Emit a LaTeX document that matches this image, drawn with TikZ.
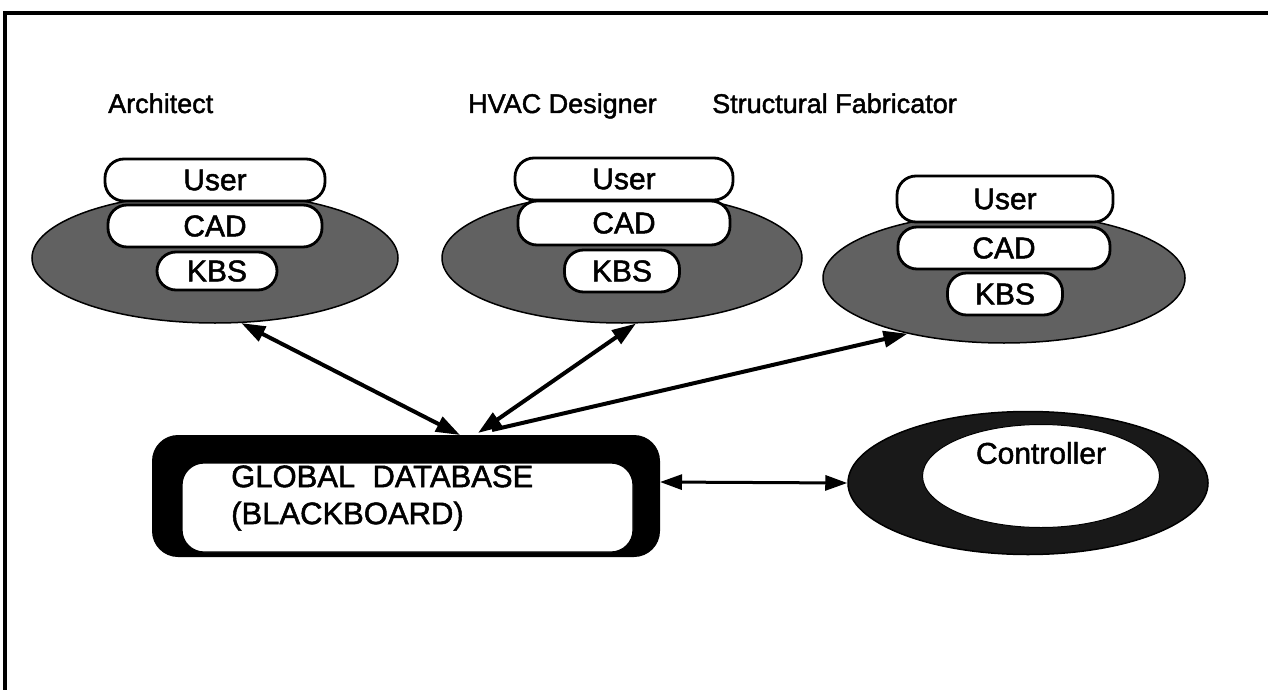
\documentclass[tikz,border=0pt]{standalone}
\usepackage{fontspec}
\setmainfont{Liberation Sans}
% slightly emboldened sans for all labels
\newfontfamily\heavysans{Liberation Sans}[BoldFont={Liberation Sans}, BoldFeatures={FakeBold=1.6}]
\usetikzlibrary{arrows.meta,shapes.geometric}

\begin{document}
\begin{tikzpicture}[x=1pt,y=-1pt,
  every node/.style={font=\heavysans\bfseries},
  agent/.style={ellipse, draw=black, line width=1.5pt, fill=black!62, inner sep=0pt},
  pill/.style={rectangle, draw=black, line width=2.8pt, fill=white, rounded corners=19pt,
    inner sep=0pt, font=\heavysans\bfseries\fontsize{30}{31}\selectfont},
  role/.style={anchor=base west, inner sep=0pt, font=\heavysans\bfseries\fontsize{27}{30}\selectfont},
  conn/.style={line width=4pt, {Triangle[length=24pt,width=16pt]}-{Triangle[length=24pt,width=16pt]}},
  connR/.style={line width=4pt, -{Triangle[length=24pt,width=16pt]}},
  link/.style={line width=3pt, {Triangle[length=22pt,width=15pt]}-{Triangle[length=22pt,width=15pt]}}
]
\useasboundingbox (0,0) rectangle (1268,690);
\fill[white] (0,0) rectangle (1268,690);

% outer frame (top and left edges)
\draw[line width=3.5pt] (5,690) -- (5,13) -- (1268,13);

% role labels
\node[role] (lblA) at (108,113) {Architect};
\node[role] (lblH) at (468,113) {HVAC Designer};
\node[role] (lblS) at (712,113) {Structural Fabricator};

% Architect
\node[agent, minimum width=366pt, minimum height=130pt] (archE) at (215,258) {};
\node[pill, minimum width=220pt, minimum height=42pt] (archU) at (215,180) {User};
\node[pill, minimum width=214pt, minimum height=42pt] (archC) at (215,226) {CAD};
\node[pill, minimum width=120pt, minimum height=38pt] (archK) at (217,271) {KBS};

% HVAC designer
\node[agent, minimum width=360pt, minimum height=130pt] (hvacE) at (622,258) {};
\node[pill, minimum width=218pt, minimum height=42pt] (hvacU) at (624,179) {User};
\node[pill, minimum width=212pt, minimum height=44pt] (hvacC) at (624,223) {CAD};
\node[pill, minimum width=115pt, minimum height=42pt] (hvacK) at (622,271) {KBS};

% Structural fabricator
\node[agent, minimum width=362pt, minimum height=130pt] (strE) at (1004,278) {};
\node[pill, minimum width=216pt, minimum height=46pt] (strU) at (1005,199) {User};
\node[pill, minimum width=212pt, minimum height=42pt] (strC) at (1004,248) {CAD};
\node[pill, minimum width=115pt, minimum height=42pt] (strK) at (1005,294) {KBS};

% global database (blackboard)
\node[rectangle, fill=black, rounded corners=26pt, minimum width=508pt, minimum height=122pt,
  inner sep=0pt] (bb) at (406,496) {};
\node[rectangle, draw=black, line width=1.2pt, fill=white, rounded corners=22pt,
  minimum width=451pt, minimum height=89pt, inner sep=0pt] (bbIn) at (407.5,507.5) {};
\node[anchor=west, align=left, inner sep=0pt, font=\heavysans\bfseries\fontsize{31}{37}\selectfont]
  (bbTxt) at (231,498) {GLOBAL\ \ DATABASE\\(BLACKBOARD)};

% controller
\node[ellipse, draw=black, line width=1.5pt, fill=black!90, inner sep=0pt,
  minimum width=360pt, minimum height=143pt] (ctrl) at (1028,483) {};
\node[ellipse, draw=black, line width=1pt, fill=white, inner sep=0pt,
  minimum width=237pt, minimum height=103pt] (ctrlIn) at (1041,476) {};
\node[inner sep=0pt, font=\heavysans\bfseries\fontsize{30}{32}\selectfont] (ctrlTxt) at (1041,453) {Controller};

% connector ends on the blackboard
\coordinate (bbA) at (460,435);
\coordinate (bbH) at (478,433);
\coordinate (bbS) at (492,430);
\coordinate (bbE) at (660,482);

% connectors
\draw[conn] (archE.-68) -- (bbA);
\draw[conn] (hvacE.-78) -- (bbH);
\draw[connR] (bbS) -- (strE.-150);
\draw[link] (bbE) -- (ctrl.west);
\end{tikzpicture}
\end{document}
